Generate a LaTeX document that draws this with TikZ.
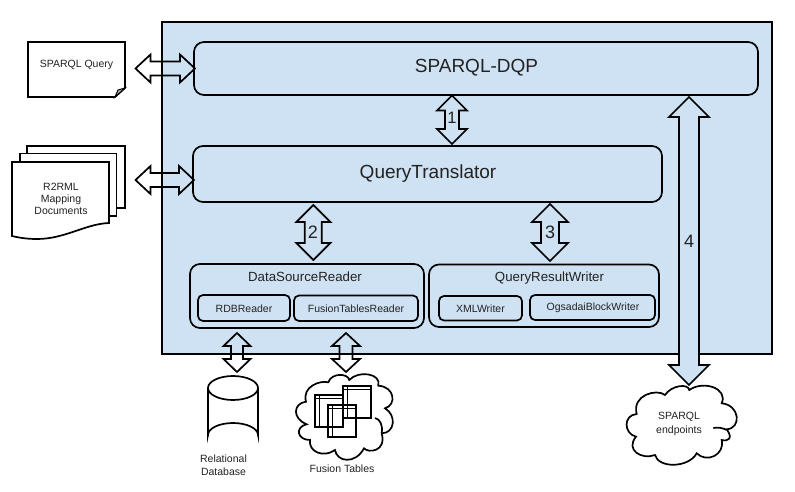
\documentclass[tikz,border=0pt]{standalone}
\usepackage{fontspec}
\setmainfont{Liberation Sans}
\definecolor{pale}{HTML}{CFE2F3}
\definecolor{ink}{HTML}{222222}
\tikzset{
  x=1pt,y=-1pt,
  line/.style={draw=black,line width=1.7pt,line join=miter},
  panel/.style={line,fill=pale,rounded corners=#1},
  panel/.default=10pt,
  lbl/.style={inner sep=0pt,text=ink,align=center},
  blockarrow/.style={line,line join=miter},
}
% vertical double block arrow: {x}{top y}{bottom y}{head half}{shaft half}{head length}{fill}
\newcommand{\vblock}[7]{%
  \draw[blockarrow,fill=#7] (#1,#2) -- (#1+#4,#2+#6) -- (#1+#5,#2+#6) -- (#1+#5,#3-#6) -- (#1+#4,#3-#6)
    -- (#1,#3) -- (#1-#4,#3-#6) -- (#1-#5,#3-#6) -- (#1-#5,#2+#6) -- (#1-#4,#2+#6) -- cycle;}
\newcommand{\hblock}[7]{%
  \draw[blockarrow,fill=#7] (#2,#1) -- (#2+#6,#1+#4) -- (#2+#6,#1+#5) -- (#3-#6,#1+#5) -- (#3-#6,#1+#4)
    -- (#3,#1) -- (#3-#6,#1-#4) -- (#3-#6,#1-#5) -- (#2+#6,#1-#5) -- (#2+#6,#1-#4) -- cycle;}
\newcommand{\ftable}[2]{%
  \draw[line,line width=1.4pt] (#1,#2) rectangle ++(28,32);
  \draw[line,line width=1pt] (#1,#2+3.5) -- ++(28,0) (#1+4,#2) -- ++(0,32);}
\begin{document}
\begin{tikzpicture}
\useasboundingbox (0,0) rectangle (795,492);
% main container
\node[draw=black,line width=1.7pt,fill=pale,minimum width=610pt,minimum height=332pt,inner sep=0pt,anchor=north west] (main) at (161,21) {};
% modules
\draw[panel] (194,42) rectangle (758,95);
\node[lbl,font=\fontsize{19}{21}\selectfont] (dqp) at (476.5,68) {SPARQL-DQP};
\draw[panel] (193,146) rectangle (662,202);
\node[lbl,font=\fontsize{19}{21}\selectfont] (qt) at (428,174) {QueryTranslator};
\draw[panel] (190,264) rectangle (424,328);
\node[lbl,font=\fontsize{13.3}{15}\selectfont] (dsr) at (305,277) {DataSourceReader};
\draw[panel=5pt] (198,295) rectangle (290,321);
\node[lbl,font=\fontsize{10.5}{12}\selectfont] (rdb) at (244,308.5) {RDBReader};
\draw[panel=5pt] (294,295.5) rectangle (418,321);
\node[lbl,font=\fontsize{10.5}{12}\selectfont] (ftr) at (356,308.5) {FusionTablesReader};
\draw[panel] (429,264.5) rectangle (659,327);
\node[lbl,font=\fontsize{13.3}{15}\selectfont] (qrw) at (549.5,278) {QueryResultWriter};
\draw[panel=5pt] (439,296) rectangle (522,320.5);
\node[lbl,font=\fontsize{10.5}{12}\selectfont] (xml) at (480.5,308.5) {XMLWriter};
\draw[panel=5pt] (530,295) rectangle (655,320);
\node[lbl,font=\fontsize{10.5}{12}\selectfont] (ogs) at (593,307.5) {OgsadaiBlockWriter};
% documents
\draw[line,fill=white] (28,42) -- (125,42) -- (125,88) -- (115,97) -- (28,97) -- cycle;
\draw[line,line width=1pt,fill=white!70!black] (125,88) -- (118,90) -- (115,97) -- cycle;
\node[lbl,font=\fontsize{10.5}{12}\selectfont] (sq) at (76.5,65) {SPARQL Query};
\draw[line,fill=white] (27,146) rectangle (125,208);
\draw[line,fill=white] (20,153.5) rectangle (116.5,216);
\draw[line,fill=white] (12,162) -- (109,162) -- (109,223) .. controls (85,224) and (65,239) .. (37,239) .. controls (28,239) and (20,238) .. (12,236) -- cycle;
\node[lbl,font=\fontsize{10.5}{12.3}\selectfont] (r2) at (61,199) {R2RML\\Mapping\\Documents};
% cylinder
\draw[line,fill=white] (208,388) arc[x radius=25,y radius=12,start angle=180,end angle=-180]
  (208,388) -- (208,435) arc[x radius=25,y radius=12,start angle=180,end angle=360] -- (258,388);
\node[lbl,font=\fontsize{10.5}{13}\selectfont] (rel) at (223.5,465.5) {Relational\\Database};
% fusion cloud
\draw[line,fill=white] (306,401.7) .. controls (301.7,386.7) and (320,380) .. (328.3,382.3)
  .. controls (331.7,372.3) and (348.3,373.3) .. (349.3,380)
  .. controls (358.3,370) and (381.7,373.3) .. (378.3,385.7)
  .. controls (395,386.7) and (396.7,405) .. (385,408.3)
  .. controls (396.7,415) and (395,433.3) .. (381.7,433.3)
  .. controls (386.7,451.7) and (368.3,453.3) .. (364,448.3)
  .. controls (355,465) and (336.7,461.7) .. (335,450)
  .. controls (323.3,458.3) and (308.3,451.7) .. (310,440)
  .. controls (296.7,440) and (295,426.7) .. (306.7,424.3)
  .. controls (291.7,418.3) and (293.3,403.3) .. (306,401.7) -- cycle;
\draw[line] (375,418) .. controls (380,419) and (383,425) .. (381.7,433.3);
\ftable{315}{395}
\ftable{343}{386}
\ftable{328}{405}
\node[lbl,font=\fontsize{10.5}{12}\selectfont] (ft) at (342,469) {Fusion Tables};
% endpoints cloud
\draw[line,fill=white] (636.7,414) .. controls (631.7,395) and (656.7,388.3) .. (665,395)
  .. controls (671.7,385) and (688.3,383.3) .. (689.3,390)
  .. controls (703.3,380) and (728.3,388.3) .. (721.7,403.3)
  .. controls (740,405) and (741.7,428.3) .. (726.7,429.3)
  .. controls (733.3,438.3) and (728.3,441.7) .. (721.7,440)
  .. controls (725,455) and (706.7,463.3) .. (696.7,453.3)
  .. controls (688.3,468.3) and (658.3,468.3) .. (655,455)
  .. controls (641.7,460) and (625,450) .. (636,436.7)
  .. controls (623.3,433.3) and (623.3,415) .. (636.7,414) -- cycle;
\draw[line] (713.3,428) .. controls (718,427) and (723,428) .. (726.7,430);
\node[lbl,font=\fontsize{10.5}{13.5}\selectfont] (se) at (679,424) {SPARQL\\endpoints};
% arrows
\hblock{68.5}{135.5}{195}{14}{7}{15}{none}
\hblock{180}{135.5}{194}{14}{7}{15}{none}
\vblock{452}{95.5}{144}{15}{7}{15}{none}
\vblock{313.3}{205}{260}{17}{8.5}{17}{none}
\vblock{550}{204}{261}{18}{9}{18}{none}
\vblock{237}{333}{372}{13.5}{6}{13}{none}
\vblock{346}{333}{372}{14}{6.5}{13}{none}
\vblock{689}{97}{385}{20}{10}{20}{pale}
\node[lbl,font=\fontsize{16.5}{18}\selectfont] (n1) at (452,118) {1};
\node[lbl,font=\fontsize{18}{20}\selectfont] (n2) at (313,232.5) {2};
\node[lbl,font=\fontsize{18}{20}\selectfont] (n3) at (550,232.5) {3};
\node[lbl,font=\fontsize{18}{20}\selectfont] (n4) at (689,241) {4};
\end{tikzpicture}
\end{document}
